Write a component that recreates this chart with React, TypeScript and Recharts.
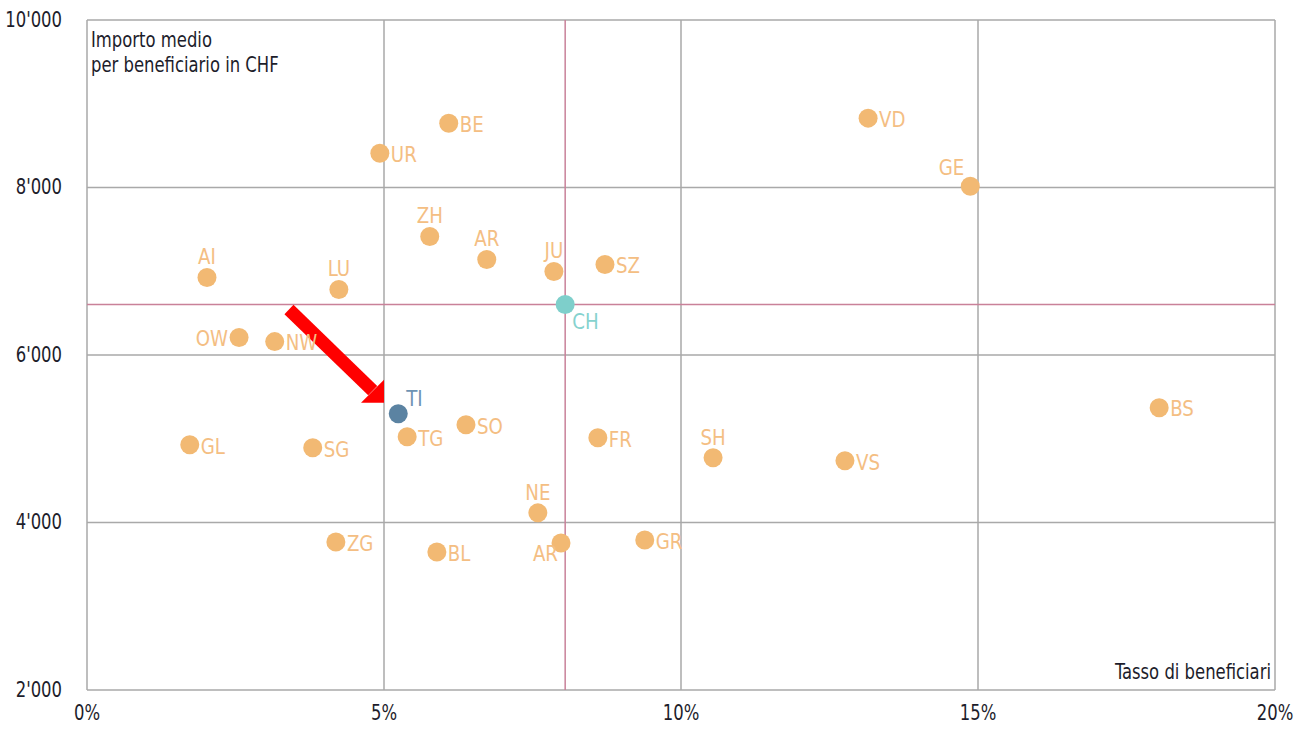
import {
  CartesianGrid,
  ReferenceDot,
  ReferenceLine,
  Scatter,
  ScatterChart,
  XAxis,
  YAxis,
} from "recharts";

// Cantons: tasso di beneficiari (%) and importo medio per beneficiario (CHF)
const cantons = ["BE", "UR", "VD", "GE", "ZH", "AR", "JU", "SZ", "AI", "LU", "OW", "NW", "SO", "TG", "FR", "GL", "SG", "SH", "VS", "BS", "NE", "ZG", "AR", "GR", "BL"];
const rates = [6.09, 4.93, 13.15, 14.87, 5.77, 6.73, 7.86, 8.72, 2.02, 4.24, 2.56, 3.16, 6.38, 5.39, 8.6, 1.73, 3.8, 10.54, 12.76, 18.05, 7.59, 4.19, 7.98, 9.39, 5.89];
const amounts = [8768, 8409, 8828, 8014, 7416, 7141, 6998, 7081, 6926, 6782, 6208, 6160, 5167, 5024, 5012, 4928, 4892, 4773, 4737, 5371, 4115, 3768, 3756, 3792, 3648];
// where each code sits next to its dot
const labelSides = ["right", "right", "right", "topleft", "top", "top", "top", "right", "top", "top", "left", "right", "right", "right", "right", "right", "right", "top", "right", "right", "top", "right", "bottomleft", "right", "right"];

const ticino = { code: "TI", rate: 5.24, amount: 5299, side: "topright" };
const swiss = { code: "CH", rate: 8.05, amount: 6603, side: "bottomright" };

const xTicks = [0, 5, 10, 15, 20];
const yTicks = [2000, 4000, 6000, 8000, 10000];

// arrow pointing at Ticino
const arrowStart = { x: 3.4, y: 6543 };
const arrowEnd = { x: 4.81, y: 5574 };
const arrowTip = { x: 5.0, y: 5431 };

const FONT = "'DejaVu Sans', sans-serif";
const ORANGE = "#F2B973";
const ORANGE_TEXT = "#F4BE83";
const INK = "#1D1D2B";
const SQUEEZE = 0.87;

const cantonData = cantons.map((code, i) => ({
  code,
  rate: rates[i],
  amount: amounts[i],
  side: labelSides[i],
}));

const fmtAmount = (v: number) => String(v).replace(/\B(?=(\d{3})+(?!\d))/g, "'");

// narrow text: no condensed face beyond DejaVu's, so squeeze it a bit more
function Narrow({ x, y, anchor = "start", fill = INK, size = 21, squeeze = SQUEEZE, baseline, children }: any) {
  return (
    <text
      transform={`translate(${x} ${y}) scale(${squeeze} 1)`}
      x={0}
      y={0}
      textAnchor={anchor}
      dominantBaseline={baseline}
      fill={fill}
      fontSize={size}
      fontFamily={FONT}
      style={{ fontStretch: "condensed" }}
    >
      {children}
    </text>
  );
}

const XTick = (p: any) => (
  <Narrow x={p.x} y={p.y + 21} anchor="middle" baseline="central">
    {`${p.payload.value}%`}
  </Narrow>
);

const YTick = (p: any) => (
  <Narrow x={p.x - 23} y={p.y} anchor="end" baseline="central">
    {fmtAmount(p.payload.value)}
  </Narrow>
);

function dotShape(fill: string, textFill: string) {
  return (p: any) => {
    const { cx, cy, payload } = p;
    let x = cx + 11;
    let y = cy + 1;
    let anchor = "start";
    if (payload.side === "top") {
      x = cx;
      y = cy - 21;
      anchor = "middle";
    } else if (payload.side === "left") {
      x = cx - 11;
      anchor = "end";
    } else if (payload.side === "topleft") {
      x = cx - 6;
      y = cy - 19;
      anchor = "end";
    } else if (payload.side === "bottomleft") {
      x = cx - 3;
      y = cy + 10;
      anchor = "end";
    } else if (payload.side === "topright") {
      x = cx + 8;
      y = cy - 16;
    } else if (payload.side === "bottomright") {
      x = cx + 7;
      y = cy + 17;
    }
    return (
      <g>
        <circle cx={cx} cy={cy} r={9.5} fill={fill} />
        <Narrow x={x} y={y} anchor={anchor} fill={textFill} size={22} squeeze={0.92} baseline="central">
          {payload.code}
        </Narrow>
      </g>
    );
  };
}

const arrowHead = (p: any) => {
  const { cx, cy } = p;
  return <polygon points={`${cx},${cy} ${cx - 23},${cy} ${cx},${cy - 23}`} fill="#FF0000" />;
};

export default function App() {
  return (
    <div style={{ position: "absolute", left: 0, top: 0, background: "#fff" }}>
      <ScatterChart width={1297} height={732} margin={{ top: 20, right: 22, bottom: 0, left: 0 }}>
        <CartesianGrid stroke="#A9A9A9" strokeWidth={1.5} horizontalValues={yTicks} verticalValues={xTicks} />
        <XAxis
          type="number"
          dataKey="rate"
          domain={[0, 20]}
          ticks={xTicks}
          axisLine={false}
          tickLine={false}
          tickSize={0}
          height={42}
          tick={<XTick />}
        />
        <YAxis
          type="number"
          dataKey="amount"
          domain={[2000, 10000]}
          ticks={yTicks}
          axisLine={false}
          tickLine={false}
          tickSize={0}
          width={87}
          tick={<YTick />}
        />
        <ReferenceLine x={swiss.rate} stroke="#C98199" strokeWidth={1.5} />
        <ReferenceLine y={swiss.amount} stroke="#C98199" strokeWidth={1.5} />
        <Scatter data={cantonData} shape={dotShape(ORANGE, ORANGE_TEXT)} isAnimationActive={false} />
        <Scatter data={[swiss]} shape={dotShape("#7ECFCB", "#86D2CE")} isAnimationActive={false} />
        <Scatter data={[ticino]} shape={dotShape("#5B83A2", "#6E93B3")} isAnimationActive={false} />
        <ReferenceLine segment={[arrowStart, arrowEnd]} stroke="#FF0000" strokeWidth={13} />
        <ReferenceDot x={arrowTip.x} y={arrowTip.y} shape={arrowHead} />
        <Narrow x={91} y={47}>Importo medio</Narrow>
        <Narrow x={91} y={72}>per beneficiario in CHF</Narrow>
        <Narrow x={1271} y={679} anchor="end">Tasso di beneficiari</Narrow>
      </ScatterChart>
    </div>
  );
}
